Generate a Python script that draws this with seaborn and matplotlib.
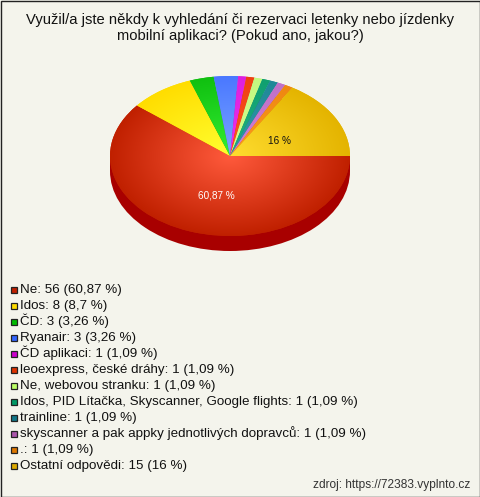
import matplotlib

matplotlib.use("Agg")
import matplotlib.pyplot as plt
import numpy as np
import seaborn as sns
from matplotlib.patches import Ellipse, Rectangle

WIDTH, HEIGHT = 480, 497
BG = "#f4f4ec"

title = "Využil/a jste někdy k vyhledání či rezervaci letenky nebo jízdenky\nmobilní aplikaci? (Pokud ano, jakou?)"
labels = [
    "Ne",
    "Idos",
    "ČD",
    "Ryanair",
    "ČD aplikaci",
    "leoexpress, české dráhy",
    "Ne, webovou stranku",
    "Idos, PID Lítačka, Skyscanner, Google flights",
    "trainline",
    "skyscanner a pak appky jednotlivých dopravců",
    ".",
    "Ostatní odpovědi",
]
counts = [56, 8, 3, 3, 1, 1, 1, 1, 1, 1, 1, 15]
percents = ["60,87", "8,7", "3,26", "3,26", "1,09", "1,09", "1,09", "1,09", "1,09", "1,09", "1,09", "16"]
swatch_colors = ["#c02000", "#ffdd00", "#00bb00", "#3366ff", "#cc00cc", "#dd3300",
                 "#bbff66", "#009966", "#117788", "#aa55aa", "#dd7700", "#ddaa00"]
inner_colors = ["#ff5a3c", "#ffff30", "#33ee33", "#7aa5ff", "#ee30ee", "#ff5520",
                "#d4ff90", "#20b080", "#3399aa", "#d080d8", "#ff9922", "#ffdd30"]
outer_colors = ["#c02000", "#ffdd00", "#10c010", "#4a78ff", "#dd20dd", "#ee4010",
                "#c4f880", "#10a070", "#208898", "#c070c8", "#ee8810", "#e4b400"]

sns.set_theme(style="white")
plt.rcParams["font.family"] = ["Liberation Sans", "DejaVu Sans"]

fig = plt.figure(figsize=(WIDTH / 100, HEIGHT / 100), dpi=100, facecolor=BG)

# podklad v pixelech obrazku
ax = fig.add_axes([0, 0, 1, 1])
ax.set_xlim(0, WIDTH)
ax.set_ylim(HEIGHT, 0)
ax.axis("off")

# bocni stena kolace
ax.add_patch(Ellipse((230, 171), 240, 160, color="#a80000", lw=0))
ax.add_patch(Rectangle((110, 156), 240, 15, color="#a80000", lw=0))

# samotny kolac, elipsa vznikne z osy bez zachovani pomeru stran
ax_pie = fig.add_axes([110 / WIDTH, 1 - 236 / HEIGHT, 240 / WIDTH, 160 / HEIGHT])
wedges, _ = ax_pie.pie(counts, colors=outer_colors, startangle=0, counterclock=False,
                       radius=1, wedgeprops={"linewidth": 0})
ax_pie.set_aspect("auto")
ax_pie.set_xlim(-1, 1)
ax_pie.set_ylim(-1, 1)
ax_pie.patch.set_alpha(0)

xx, yy = np.meshgrid(np.linspace(-1, 1, 480), np.linspace(-1, 1, 320))
radius = np.clip(np.hypot(xx, yy), 0, 1)
for wedge, inner, outer in zip(wedges, inner_colors, outer_colors):
    cmap = sns.blend_palette([inner, outer], as_cmap=True)
    img = ax_pie.imshow(radius, cmap=cmap, vmin=0, vmax=1, extent=(-1, 1, -1, 1),
                        origin="lower", aspect="auto", zorder=2)
    img.set_clip_path(wedge)

top = fig.add_axes([0, 0, 1, 1])
top.set_xlim(0, WIDTH)
top.set_ylim(HEIGHT, 0)
top.axis("off")
top.patch.set_alpha(0)

line_one, line_two = title.split("\n")
top.text(240, 24, line_one, ha="center", va="baseline", fontsize=10.65, color="#111111")
top.text(240, 40, line_two, ha="center", va="baseline", fontsize=10.65, color="#111111")

top.text(216.5, 198, "60,87 %", ha="center", va="baseline", fontsize=7.2, color="white")
top.text(279, 144, "16 %", ha="center", va="baseline", fontsize=7.2, color="#111111")

# legenda
for i, (label, count, pct, color) in enumerate(zip(labels, counts, percents, swatch_colors)):
    y = 289 + i * 16
    top.add_patch(Rectangle((10.5, y - 2.5), 6, 6, facecolor=color, edgecolor="#222222", lw=0.9))
    top.text(20, y + 4, f"{label}: {count} ({pct} %)", ha="left", va="baseline", fontsize=9.65,
             color="#111111")

top.text(470, 488, "zdroj: https://72383.vyplnto.cz", ha="right", va="baseline",
         fontsize=8.6, color="#333333")

# ramecek
top.add_patch(Rectangle((0.5, 0.5), WIDTH - 1, HEIGHT - 1, fill=False, edgecolor="#222222", lw=1))

fig.savefig("out.png", dpi=100, facecolor=BG)
